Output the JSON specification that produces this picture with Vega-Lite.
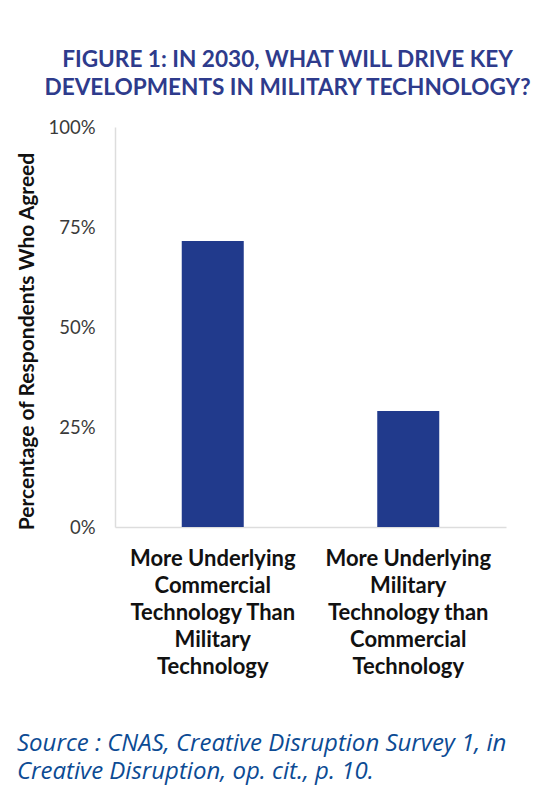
{
  "$schema": "https://vega.github.io/schema/vega-lite/v6.json",
  "width": 391,
  "height": 400,
  "autosize": {"type": "none"},
  "padding": {"left": 115, "top": 127, "right": 28, "bottom": 260},
  "background": "white",
  "title": {
    "text": ["FIGURE 1: IN 2030, WHAT WILL DRIVE KEY", "DEVELOPMENTS IN MILITARY TECHNOLOGY?"],
    "font": "Lato",
    "fontSize": 22.6,
    "fontWeight": "bold",
    "color": "#2E3B8C",
    "lineHeight": 28,
    "anchor": "middle",
    "frame": "group",
    "dx": -23,
    "offset": 18
  },
  "data": {
    "values": [
      {"driver": "More Underlying Commercial Technology Than Military Technology", "share": 0.715},
      {"driver": "More Underlying Military Technology than Commercial Technology", "share": 0.29}
    ]
  },
  "mark": {"type": "bar", "color": "#213A8C", "size": 62},
  "encoding": {
    "x": {
      "field": "driver",
      "type": "nominal",
      "sort": null,
      "scale": {"paddingInner": 0, "paddingOuter": 0},
      "axis": {
        "labelAngle": 0,
        "labelExpr": "datum.label == 'More Underlying Commercial Technology Than Military Technology' ? ['More Underlying','Commercial','Technology Than','Military','Technology'] : ['More Underlying','Military','Technology than','Commercial','Technology']",
        "labelFont": "Lato",
        "labelFontWeight": "bold",
        "labelFontSize": 22,
        "labelColor": "#111111",
        "labelLineHeight": 27,
        "labelLimit": 0,
        "labelPadding": 21,
        "ticks": false,
        "domainColor": "#dddddd",
        "domainWidth": 1.5,
        "title": ["Source : CNAS, Creative Disruption Survey 1, in", "Creative Disruption, op. cit., p. 10."],
        "titleFont": "Open Sans",
        "titleFontStyle": "italic",
        "titleFontWeight": "normal",
        "titleFontSize": 24,
        "titleColor": "#0C4B94",
        "titleLineHeight": 27.5,
        "titleAnchor": "start",
        "titleAlign": "left",
        "titleBaseline": "alphabetic",
        "titleX": -98.5,
        "titleY": 223.7
      }
    },
    "y": {
      "field": "share",
      "type": "quantitative",
      "scale": {"domain": [0, 1]},
      "axis": {
        "values": [0, 0.25, 0.5, 0.75, 1],
        "format": "%",
        "grid": false,
        "labelFont": "Lato",
        "labelFontSize": 18.5,
        "labelColor": "#3a3a3a",
        "labelPadding": 20,
        "ticks": false,
        "domainColor": "#dddddd",
        "domainWidth": 1.5,
        "title": "Percentage of Respondents Who Agreed",
        "titleFont": "Lato",
        "titleFontWeight": "bold",
        "titleFontSize": 21,
        "titleColor": "#111111",
        "titlePadding": 10,
        "titleY": 214
      }
    }
  },
  "config": {"view": {"stroke": null}}
}
